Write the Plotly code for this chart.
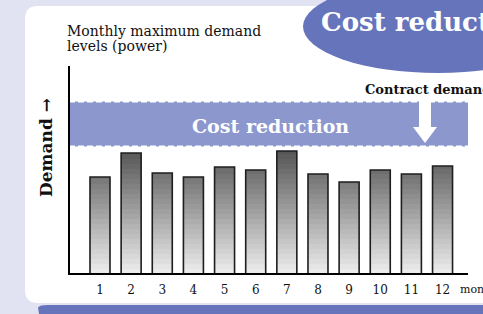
import plotly.graph_objects as go

# ---- data ----
months = [1, 2, 3, 4, 5, 6, 7, 8, 9, 10, 11, 12]
month_labels = ["1", "2", "3", "4", "5", "6", "7", "8", "9", "10", "11", "12"]
max_demand = [97, 121, 101, 97, 107, 104, 123, 100, 92, 104, 100, 108]
contract_demand = 172.5
reduced_contract = 127.5
axis_top = 208

W, H = 483, 314
SP = 31.14  # px per month


def mx(px):
    return 1 + (px - 100) / SP


def px_x(px):
    return px / W


def px_y(py):
    return 1 - py / H


fig = go.Figure()

# gradient bars built as stacked slices
seg = 5
nseg = 26
bar_w = 20 / SP
for k in range(nseg):
    heights = [min(max(v - k * seg, 0), seg) for v in max_demand]
    g = int(round(238 - 153 * (k + 0.5) * seg / 123))
    g = max(g, 70)
    fig.add_trace(go.Bar(
        x=months, y=heights, base=k * seg, width=bar_w,
        marker=dict(color=f"rgb({g},{g},{g})", line=dict(width=0)),
        hoverinfo="skip", showlegend=False))
fig.add_trace(go.Bar(
    x=months, y=max_demand, width=bar_w,
    marker=dict(color="rgba(0,0,0,0)", line=dict(color="#1e1e1e", width=1.6)),
    showlegend=False))

shapes = []
# white rounded panel
x0, y0, x1, y1, r = 25, 6, 560, 303, 13
def P(x, y):
    return f"{px_x(x)},{px_y(y)}"
shapes.append(dict(
    type="path", xref="paper", yref="paper", layer="below",
    path=(f"M{P(x0 + r, y0)} L{P(x1, y0)} L{P(x1, y1)} L{P(x0 + r, y1)} "
          f"Q{P(x0, y1)} {P(x0, y1 - r)} L{P(x0, y0 + r)} Q{P(x0, y0)} {P(x0 + r, y0)} Z"),
    fillcolor="white", line=dict(width=0)))
# blue bottom strip
bx0, by0, br = 38, 305, 10
shapes.append(dict(
    type="path", xref="paper", yref="paper", layer="below",
    path=(f"M{P(bx0 + br, by0)} L{P(560, by0)} L{P(560, 330)} L{P(bx0 + 4, 330)} "
          f"L{P(bx0, by0 + 3)} Q{P(bx0, by0)} {P(bx0 + br, by0)} Z"),
    fillcolor="#6674bc", line=dict(width=0)))
# ellipse top right
shapes.append(dict(type="circle", xref="paper", yref="paper", layer="below",
                   x0=px_x(303), x1=px_x(303 + 270), y0=px_y(73), y1=px_y(-20),
                   fillcolor="#6674bc", line=dict(width=0)))
# cost reduction band
shapes.append(dict(type="rect", xref="x", yref="y", layer="below",
                   x0=mx(69), x1=mx(468), y0=reduced_contract, y1=contract_demand,
                   fillcolor="#8c97cd", line=dict(width=0)))
for lvl in (contract_demand, reduced_contract):
    shapes.append(dict(type="line", xref="x", yref="y",
                       x0=mx(69), x1=mx(468), y0=lvl, y1=lvl,
                       line=dict(color="white", width=2, dash="6px,3px")))
# arrow
cx = mx(425)
sw = 6 / SP
hw = 12 / SP
ytop = contract_demand + 2.5
yhead = contract_demand - 25.5
ytip = reduced_contract + 3.5
shapes.append(dict(
    type="path", xref="x", yref="y",
    path=(f"M{cx - sw},{ytop} L{cx + sw},{ytop} L{cx + sw},{yhead} L{cx + hw},{yhead} "
          f"L{cx},{ytip} L{cx - hw},{yhead} L{cx - sw},{yhead} Z"),
    fillcolor="white", line=dict(width=0)))
# axes lines
shapes.append(dict(type="line", xref="x", yref="y", x0=mx(69), x1=mx(69), y0=-1, y1=axis_top,
                   line=dict(color="black", width=2)))
shapes.append(dict(type="line", xref="x", yref="y", x0=mx(68), x1=mx(468), y0=0, y1=0,
                   line=dict(color="black", width=2)))

SERIF = "DejaVu Serif"
ann = []
ann.append(dict(x=px_x(65), y=px_y(31), text="Monthly maximum demand", xanchor="left",
                yanchor="middle", font=dict(family=SERIF, size=14, color="#111")))
ann.append(dict(x=px_x(65), y=px_y(46), text="levels (power)", xanchor="left",
                yanchor="middle", font=dict(family=SERIF, size=14, color="#111")))
ann.append(dict(x=px_x(319), y=px_y(22), text="<b>Cost reduction</b>", xanchor="left",
                yanchor="middle", font=dict(family=SERIF, size=26, color="white")))
ann.append(dict(x=px_x(363), y=px_y(90), text="<b>Contract demand</b>", xanchor="left",
                yanchor="middle", font=dict(family=SERIF, size=13, color="#111")))
ann.append(dict(x=px_x(270), y=px_y(126), text="<b>Cost reduction</b>", xanchor="center",
                yanchor="middle", font=dict(family=SERIF, size=19, color="white")))
ann.append(dict(x=px_x(46), y=px_y(148), text="<b>Demand →</b>", textangle=-90,
                xanchor="center", yanchor="middle",
                font=dict(family=SERIF, size=17, color="#111")))
ann.append(dict(x=px_x(458), y=px_y(289), text="month", xanchor="left",
                yanchor="middle", font=dict(family=SERIF, size=11, color="#111")))
for a in ann:
    a.update(xref="paper", yref="paper", showarrow=False)

fig.update_layout(
    width=W, height=H, margin=dict(l=0, r=0, t=0, b=0),
    paper_bgcolor="#e1e3f2", plot_bgcolor="rgba(0,0,0,0)",
    barmode="overlay", showlegend=False,
    shapes=shapes, annotations=ann,
    xaxis=dict(range=[mx(0), mx(W)], tickvals=months, ticktext=month_labels,
               showgrid=False, zeroline=False, showline=False, ticks="",
               anchor="free", position=px_y(274), ticklabelstandoff=7,
               tickfont=dict(family=SERIF, size=12, color="#111")),
    yaxis=dict(range=[-40, 274], visible=False),
)

fig.write_html("out.html", config={"displayModeBar": False},
               post_script="document.body.style.margin='0';document.body.style.overflow='hidden';")
